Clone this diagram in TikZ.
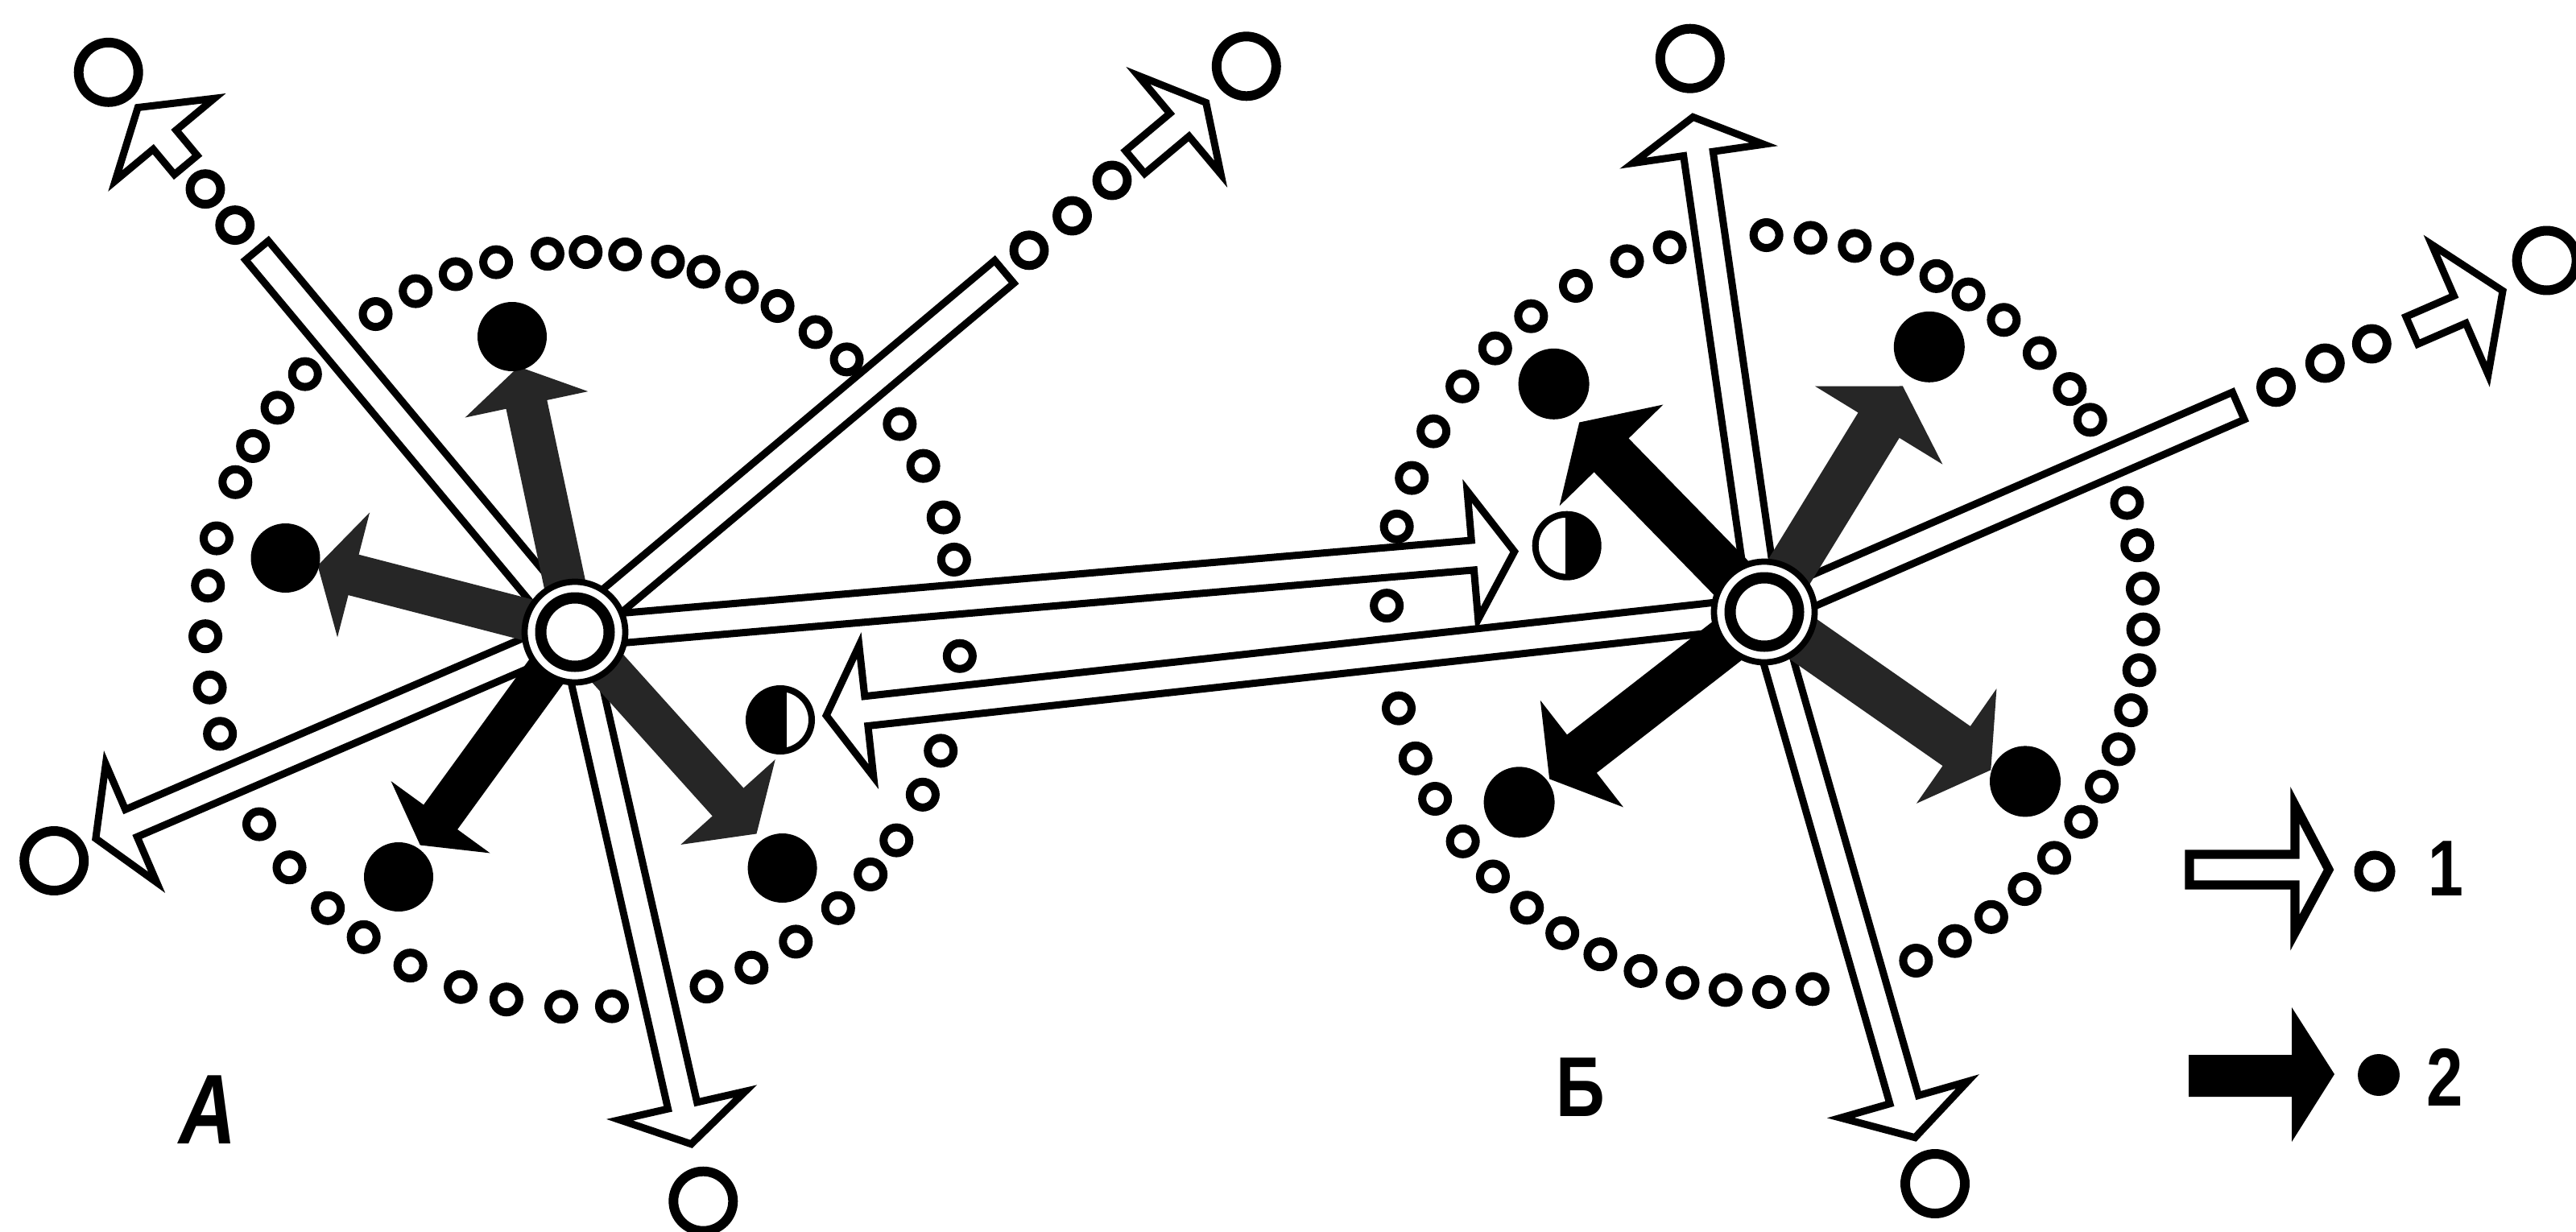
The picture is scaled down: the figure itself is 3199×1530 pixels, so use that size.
\documentclass[tikz,border=0pt]{standalone}
\usepackage{fontspec}
\newfontfamily\labfont[FakeStretch=0.8]{Liberation Sans}
\tikzset{
 hollow/.style={draw=black,fill=white,line width=2.56pt,line join=miter,miter limit=6},
 rdot/.style={draw=black,fill=white,line width=2.85pt},
 trail/.style={draw=black,fill=white,line width=3.1pt},
 bigO/.style={draw=black,fill=white,line width=3.4pt},
 ball/.style={fill=black},
 grayarr/.style={fill=black!85},
 blackarr/.style={fill=black},
 lab/.style={inner sep=0pt,text=black},
}
% hollow arrow with continuous shaft: centre, angle, back, tip, head half-width
\newcommand{\myHFull}[5]{%
 \begin{scope}[shift={#1},rotate=#2]
 \draw[hollow] (0,-18.5) -- (#3,-18.5) -- (#3,-#5) -- (#4,0) -- (#3,#5) -- (#3,18.5) -- (0,18.5) -- cycle;
 \end{scope}}
% hollow arrow with broken shaft: centre, angle, bar end, stub start, back, tip, head half-width
\newcommand{\myHBroken}[7]{%
 \begin{scope}[shift={#1},rotate=#2]
 \draw[hollow] (0,-18.5) -- (#3,-18.5) -- (#3,18.5) -- (0,18.5) -- cycle;
 \draw[hollow] (#4,-18.5) -- (#5,-18.5) -- (#5,-#7) -- (#6,0) -- (#5,#7) -- (#5,18.5) -- (#4,18.5) -- cycle;
 \end{scope}}
% solid arrow: centre, angle, back, tip, shaft half, head half, style
\newcommand{\mySArrow}[7]{%
 \begin{scope}[shift={#1},rotate=#2]
 \fill[#7] (0,-#5) -- (#3,-#5) -- (#3,-#6) -- (#4,0) -- (#3,#6) -- (#3,#5) -- (0,#5) -- cycle;
 \end{scope}}
\begin{document}
\begin{tikzpicture}[x=0.01cm,y=-0.01cm]
\useasboundingbox (0,0) rectangle (3199,1530);
\fill[white] (0,0) rectangle (3199,1530);

\coordinate (CA) at (714,785);
\coordinate (CB) at (2191,760);

% dotted circles
\begin{scope}[shift={(724,782)}]
\foreach \a in {10.7,17.3,25.7,33,45.7,52,59,65.1,71.4,77,83.6,89.6,95.4,103.3,109.7,116.3,123.3,137.4,144,150.9,157,166,173.3,181,188.8,196,211,219,227.5,234.5,242.8,251.1,258.3,266.7,274.4,289.1,296.5,304.3,312.5,319.6,326.1,334.1,341.3,356}
 \draw[rdot] (-\a:469) circle (16);
\end{scope}
\begin{scope}[shift={(2192,762)}]
\foreach \a in {3.8,10.4,17,30.8,36.4,43.5,50.9,57.5,63.1,69.6,76.3,83.1,89.8,104.6,111.4,120,128.2,135.5,143.1,151.2,159,166.7,178.8,194.5,202.5,209.3,217,224,231,237.6,244.2,250.8,257.4,264,270.6,277.2,293.5,300.1,306.7,313.3,319.8,326.6,332.8,339,345.2,351.4,357.6}
 \draw[rdot] (-\a:470) circle (16);
\end{scope}

% hollow arrows (flow 1)
\myHFull{(CA)}{203.3}{600}{648}{80}
\myHFull{(CA)}{-77.2}{603}{652}{80}
\myHBroken{(CA)}{129.8}{617}{755}{796}{848}{80}
\myHBroken{(CA)}{40}{696}{908}{980}{1023}{80}
\myHFull{(CB)}{186.3}{1122}{1172}{82}
\myHFull{(CA)}{4.9}{1119}{1171}{80}
\myHFull{(CB)}{98.2}{575}{621}{82}
\myHFull{(CB)}{-74}{630}{679}{82}
\myHBroken{(CB)}{23.5}{642}{877}{942}{1000}{88}

% solid arrows (flow 2)
\mySArrow{(CA)}{102}{289}{337}{26}{78}{grayarr}
\mySArrow{(CA)}{165.5}{284}{330}{26}{80}{grayarr}
\mySArrow{(CA)}{234}{284}{327}{26}{76}{blackarr}
\mySArrow{(CA)}{-48}{284}{337}{26}{79}{grayarr}
\mySArrow{(CB)}{134.3}{272}{329}{30}{90}{blackarr}
\mySArrow{(CB)}{58.5}{272}{329}{30}{93}{grayarr}
\mySArrow{(CB)}{217.85}{287}{338}{30}{84}{blackarr}
\mySArrow{(CB)}{-34.9}{291}{343}{30}{87}{grayarr}

% centres
\foreach \c in {CA,CB}{
 \filldraw[fill=white,draw=black,line width=2.2pt] (\c) circle (62.5);
 \draw[line width=3.98pt] (\c) circle (42.5);
}

% balls
\foreach \p in {(636,418),(354.5,693),(495,1089),(971.6,1078)}
 \fill[ball] \p circle (43);
\foreach \p in {(1929.6,476.8),(2395.8,430.8),(1886.6,996.3),(2515,970.4)}
 \fill[ball] \p circle (44);

% half balls
\begin{scope}
 \clip (969,894) circle (42);
 \fill[black] (900,840) rectangle (977,950);
\end{scope}
\draw[line width=2.28pt] (969,894) circle (39);
\begin{scope}
 \clip (1945.7,677.7) circle (42);
 \fill[black] (1944,620) rectangle (2000,740);
\end{scope}
\draw[line width=2.28pt] (1945.7,677.7) circle (39);

% trail dots
\foreach \p in {(291.8,279.6),(255,234.7),(1278,310.8),(1331.5,268),(1381,224),(2826.5,480.8),(2887.3,451),(2945.3,427)}
 \draw[trail] \p circle (19);

% escaped particles
\foreach \p in {(134.7,89.8),(1547.8,82.3),(67.2,1069),(873.3,1491.7),(2098.8,72.7),(2403,1470),(3162.6,323.5)}
 \draw[bigO] \p circle (37);

% legend
\draw[hollow,line width=3.2pt] (2719,1061) -- (2850,1061) -- (2850,1000) -- (2892,1080) -- (2850,1158) -- (2850,1099) -- (2719,1099) -- cycle;
\draw[line width=3.13pt] (2949,1082) circle (20);
\node[lab,font=\labfont\bfseries\fontsize{28}{28}\selectfont] (l1) at (3037,1079) {1};
\fill[black] (2718,1310) -- (2846,1310) -- (2846,1251) -- (2899,1334) -- (2846,1418) -- (2846,1362) -- (2718,1362) -- cycle;
\fill[black] (2954,1335) circle (26);
\node[lab,font=\labfont\bfseries\fontsize{29}{29}\selectfont] (l2) at (3036,1338) {2};

% labels
\node[lab,font=\labfont\bfseries\itshape\fontsize{35}{35}\selectfont] (labA) at (258,1378) {A};
\node[lab,font=\labfont\bfseries\fontsize{30}{30}\selectfont] (labB) at (1963,1350) {Б};
\end{tikzpicture}
\end{document}
